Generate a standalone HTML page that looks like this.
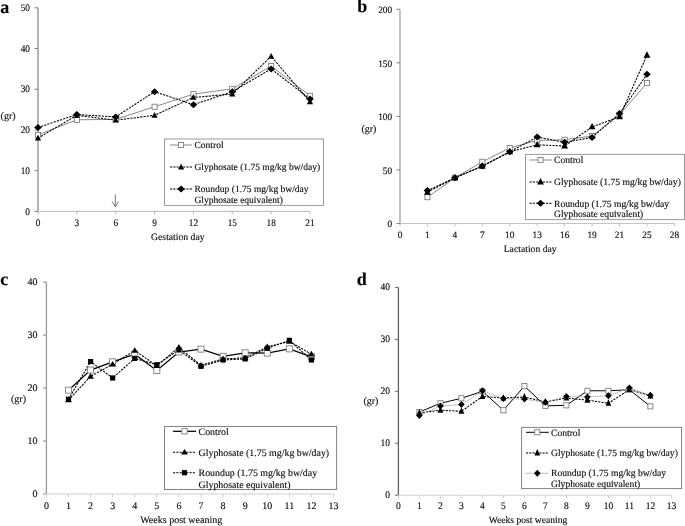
<!DOCTYPE html>
<html><head><meta charset="utf-8"><style>
html,body{margin:0;padding:0;background:#fff;}
body{filter:grayscale(1) blur(0.3px);}
svg{display:block;font-family:"Liberation Serif", serif;text-rendering:geometricPrecision;}
text{stroke:#111;stroke-width:0.15px;}
</style></head><body>
<svg width="685" height="526" viewBox="0 0 685 526">
<rect width="685" height="526" fill="#fff"/>
<line x1="38" y1="7.8" x2="38" y2="211.4" stroke="#8c8c8c" stroke-width="1.3"/>
<line x1="38" y1="211.4" x2="310" y2="211.4" stroke="#b5b5b5" stroke-width="1"/>
<line x1="34.5" y1="211.4" x2="38" y2="211.4" stroke="#808080" stroke-width="1"/>
<text transform="translate(30 214.5) scale(0.93 1)" font-size="10" text-anchor="end" font-weight="normal" fill="#111">0</text>
<line x1="34.5" y1="170.68" x2="38" y2="170.68" stroke="#808080" stroke-width="1"/>
<text transform="translate(30 173.78) scale(0.93 1)" font-size="10" text-anchor="end" font-weight="normal" fill="#111">10</text>
<line x1="34.5" y1="129.96" x2="38" y2="129.96" stroke="#808080" stroke-width="1"/>
<text transform="translate(30 133.06) scale(0.93 1)" font-size="10" text-anchor="end" font-weight="normal" fill="#111">20</text>
<line x1="34.5" y1="89.24" x2="38" y2="89.24" stroke="#808080" stroke-width="1"/>
<text transform="translate(30 92.34) scale(0.93 1)" font-size="10" text-anchor="end" font-weight="normal" fill="#111">30</text>
<line x1="34.5" y1="48.52" x2="38" y2="48.52" stroke="#808080" stroke-width="1"/>
<text transform="translate(30 51.62) scale(0.93 1)" font-size="10" text-anchor="end" font-weight="normal" fill="#111">40</text>
<line x1="34.5" y1="7.8" x2="38" y2="7.8" stroke="#808080" stroke-width="1"/>
<text transform="translate(30 10.9) scale(0.93 1)" font-size="10" text-anchor="end" font-weight="normal" fill="#111">50</text>
<line x1="38" y1="211.4" x2="38" y2="214.4" stroke="#b5b5b5" stroke-width="1"/>
<text transform="translate(38 225.8) scale(0.93 1)" font-size="10" text-anchor="middle" font-weight="normal" fill="#111">0</text>
<line x1="76.86" y1="211.4" x2="76.86" y2="214.4" stroke="#b5b5b5" stroke-width="1"/>
<text transform="translate(76.86 225.8) scale(0.93 1)" font-size="10" text-anchor="middle" font-weight="normal" fill="#111">3</text>
<line x1="115.71" y1="211.4" x2="115.71" y2="214.4" stroke="#b5b5b5" stroke-width="1"/>
<text transform="translate(115.71 225.8) scale(0.93 1)" font-size="10" text-anchor="middle" font-weight="normal" fill="#111">6</text>
<line x1="154.57" y1="211.4" x2="154.57" y2="214.4" stroke="#b5b5b5" stroke-width="1"/>
<text transform="translate(154.57 225.8) scale(0.93 1)" font-size="10" text-anchor="middle" font-weight="normal" fill="#111">9</text>
<line x1="193.43" y1="211.4" x2="193.43" y2="214.4" stroke="#b5b5b5" stroke-width="1"/>
<text transform="translate(193.43 225.8) scale(0.93 1)" font-size="10" text-anchor="middle" font-weight="normal" fill="#111">12</text>
<line x1="232.29" y1="211.4" x2="232.29" y2="214.4" stroke="#b5b5b5" stroke-width="1"/>
<text transform="translate(232.29 225.8) scale(0.93 1)" font-size="10" text-anchor="middle" font-weight="normal" fill="#111">15</text>
<line x1="271.14" y1="211.4" x2="271.14" y2="214.4" stroke="#b5b5b5" stroke-width="1"/>
<text transform="translate(271.14 225.8) scale(0.93 1)" font-size="10" text-anchor="middle" font-weight="normal" fill="#111">18</text>
<line x1="310" y1="211.4" x2="310" y2="214.4" stroke="#b5b5b5" stroke-width="1"/>
<text transform="translate(310 225.8) scale(0.93 1)" font-size="10" text-anchor="middle" font-weight="normal" fill="#111">21</text>
<text x="0.6" y="119.3" font-size="10" text-anchor="start" font-weight="normal" fill="#111">(gr)</text>
<text x="177.85" y="240.3" font-size="9.7" text-anchor="middle" font-weight="normal" fill="#111">Gestation day</text>
<text x="0.3" y="12.8" font-size="18" text-anchor="start" font-weight="bold" fill="#000">a</text>
<path d="M38 134.85L76.86 119.78L115.71 119.37L154.57 106.75L193.43 94.13L232.29 88.83L271.14 66.03L310 95.76" fill="none" stroke="#7a7a7a" stroke-width="0.9" />
<path d="M38 138.1L76.86 115.3L115.71 120.19L154.57 115.3L193.43 97.38L232.29 94.13L271.14 56.26L310 101.86" fill="none" stroke="#000" stroke-width="1.05" stroke-dasharray="2.2 1.1"/>
<path d="M38 127.52L76.86 114.49L115.71 116.93L154.57 91.68L193.43 104.71L232.29 91.68L271.14 68.88L310 99.01" fill="none" stroke="#000" stroke-width="1.05" stroke-dasharray="2.2 1.1"/>
<rect x="35.45" y="132.3" width="5.1" height="5.1" fill="#fff" stroke="#777" stroke-width="0.85"/>
<rect x="74.31" y="117.23" width="5.1" height="5.1" fill="#fff" stroke="#777" stroke-width="0.85"/>
<rect x="113.16" y="116.82" width="5.1" height="5.1" fill="#fff" stroke="#777" stroke-width="0.85"/>
<rect x="152.02" y="104.2" width="5.1" height="5.1" fill="#fff" stroke="#777" stroke-width="0.85"/>
<rect x="190.88" y="91.58" width="5.1" height="5.1" fill="#fff" stroke="#777" stroke-width="0.85"/>
<rect x="229.74" y="86.28" width="5.1" height="5.1" fill="#fff" stroke="#777" stroke-width="0.85"/>
<rect x="268.59" y="63.48" width="5.1" height="5.1" fill="#fff" stroke="#777" stroke-width="0.85"/>
<rect x="307.45" y="93.21" width="5.1" height="5.1" fill="#fff" stroke="#777" stroke-width="0.85"/>
<path d="M38 134.8L41.1 140.5L34.9 140.5Z" fill="#000"/>
<path d="M76.86 112L79.96 117.7L73.76 117.7Z" fill="#000"/>
<path d="M115.71 116.89L118.81 122.59L112.61 122.59Z" fill="#000"/>
<path d="M154.57 112L157.67 117.7L151.47 117.7Z" fill="#000"/>
<path d="M193.43 94.08L196.53 99.78L190.33 99.78Z" fill="#000"/>
<path d="M232.29 90.83L235.39 96.53L229.19 96.53Z" fill="#000"/>
<path d="M271.14 52.96L274.24 58.66L268.04 58.66Z" fill="#000"/>
<path d="M310 98.56L313.1 104.26L306.9 104.26Z" fill="#000"/>
<path d="M38 124.02L41.8 127.52L38 131.02L34.2 127.52Z" fill="#000"/>
<path d="M76.86 110.99L80.66 114.49L76.86 117.99L73.06 114.49Z" fill="#000"/>
<path d="M115.71 113.43L119.51 116.93L115.71 120.43L111.91 116.93Z" fill="#000"/>
<path d="M154.57 88.18L158.37 91.68L154.57 95.18L150.77 91.68Z" fill="#000"/>
<path d="M193.43 101.21L197.23 104.71L193.43 108.21L189.63 104.71Z" fill="#000"/>
<path d="M232.29 88.18L236.09 91.68L232.29 95.18L228.49 91.68Z" fill="#000"/>
<path d="M271.14 65.38L274.94 68.88L271.14 72.38L267.34 68.88Z" fill="#000"/>
<path d="M310 95.51L313.8 99.01L310 102.51L306.2 99.01Z" fill="#000"/>
<rect x="164.5" y="139" width="159" height="66.4" fill="#fff" stroke="#999" stroke-width="1"/>
<line x1="170" y1="145" x2="192" y2="145" stroke="#7a7a7a" stroke-width="0.9" />
<rect x="178.55" y="142.45" width="5.1" height="5.1" fill="#fff" stroke="#777" stroke-width="0.85"/>
<line x1="170" y1="167" x2="192" y2="167" stroke="#000" stroke-width="1.05" stroke-dasharray="2.2 1.1"/>
<path d="M181.1 163.7L184.2 169.4L178 169.4Z" fill="#000"/>
<line x1="170" y1="189" x2="192" y2="189" stroke="#000" stroke-width="1.05" stroke-dasharray="2.2 1.1"/>
<path d="M181.1 185.5L184.9 189L181.1 192.5L177.3 189Z" fill="#000"/>
<text x="194.5" y="148.2" font-size="9.5" text-anchor="start" font-weight="normal" fill="#111">Control</text>
<text x="194.5" y="170.2" font-size="9.5" text-anchor="start" font-weight="normal" fill="#111">Glyphosate (1.75 mg/kg bw/day)</text>
<text x="194.5" y="192.2" font-size="9.5" text-anchor="start" font-weight="normal" fill="#111">Roundup (1.75 mg/kg bw/day</text>
<text x="194.5" y="203.2" font-size="9.5" text-anchor="start" font-weight="normal" fill="#111">Glyphosate equivalent)</text>
<path d="M115.3 194.4V206.6M112 201.6L115.3 206.6L118.6 201.6" fill="none" stroke="#555" stroke-width="0.8"/>
<line x1="400" y1="9.3" x2="400" y2="223.5" stroke="#a2a2a2" stroke-width="1.3"/>
<line x1="400" y1="223.5" x2="674.4" y2="223.5" stroke="#c4c4c4" stroke-width="1"/>
<line x1="396.5" y1="223.5" x2="400" y2="223.5" stroke="#808080" stroke-width="1"/>
<text transform="translate(392.1 227.2) scale(0.95 1)" font-size="9.8" text-anchor="end" font-weight="normal" fill="#111">0</text>
<line x1="396.5" y1="169.95" x2="400" y2="169.95" stroke="#808080" stroke-width="1"/>
<text transform="translate(392.1 173.65) scale(0.95 1)" font-size="9.8" text-anchor="end" font-weight="normal" fill="#111">50</text>
<line x1="396.5" y1="116.4" x2="400" y2="116.4" stroke="#808080" stroke-width="1"/>
<text transform="translate(392.1 120.1) scale(0.95 1)" font-size="9.8" text-anchor="end" font-weight="normal" fill="#111">100</text>
<line x1="396.5" y1="62.85" x2="400" y2="62.85" stroke="#808080" stroke-width="1"/>
<text transform="translate(392.1 66.55) scale(0.95 1)" font-size="9.8" text-anchor="end" font-weight="normal" fill="#111">150</text>
<line x1="396.5" y1="9.3" x2="400" y2="9.3" stroke="#808080" stroke-width="1"/>
<text transform="translate(392.1 13) scale(0.95 1)" font-size="9.8" text-anchor="end" font-weight="normal" fill="#111">200</text>
<line x1="400" y1="223.5" x2="400" y2="226.5" stroke="#c4c4c4" stroke-width="1"/>
<text transform="translate(400 237.6) scale(0.95 1)" font-size="9.8" text-anchor="middle" font-weight="normal" fill="#111">0</text>
<line x1="427.44" y1="223.5" x2="427.44" y2="226.5" stroke="#c4c4c4" stroke-width="1"/>
<text transform="translate(427.44 237.6) scale(0.95 1)" font-size="9.8" text-anchor="middle" font-weight="normal" fill="#111">1</text>
<line x1="454.88" y1="223.5" x2="454.88" y2="226.5" stroke="#c4c4c4" stroke-width="1"/>
<text transform="translate(454.88 237.6) scale(0.95 1)" font-size="9.8" text-anchor="middle" font-weight="normal" fill="#111">4</text>
<line x1="482.32" y1="223.5" x2="482.32" y2="226.5" stroke="#c4c4c4" stroke-width="1"/>
<text transform="translate(482.32 237.6) scale(0.95 1)" font-size="9.8" text-anchor="middle" font-weight="normal" fill="#111">7</text>
<line x1="509.76" y1="223.5" x2="509.76" y2="226.5" stroke="#c4c4c4" stroke-width="1"/>
<text transform="translate(509.76 237.6) scale(0.95 1)" font-size="9.8" text-anchor="middle" font-weight="normal" fill="#111">10</text>
<line x1="537.2" y1="223.5" x2="537.2" y2="226.5" stroke="#c4c4c4" stroke-width="1"/>
<text transform="translate(537.2 237.6) scale(0.95 1)" font-size="9.8" text-anchor="middle" font-weight="normal" fill="#111">13</text>
<line x1="564.64" y1="223.5" x2="564.64" y2="226.5" stroke="#c4c4c4" stroke-width="1"/>
<text transform="translate(564.64 237.6) scale(0.95 1)" font-size="9.8" text-anchor="middle" font-weight="normal" fill="#111">16</text>
<line x1="592.08" y1="223.5" x2="592.08" y2="226.5" stroke="#c4c4c4" stroke-width="1"/>
<text transform="translate(592.08 237.6) scale(0.95 1)" font-size="9.8" text-anchor="middle" font-weight="normal" fill="#111">19</text>
<line x1="619.52" y1="223.5" x2="619.52" y2="226.5" stroke="#c4c4c4" stroke-width="1"/>
<text transform="translate(619.52 237.6) scale(0.95 1)" font-size="9.8" text-anchor="middle" font-weight="normal" fill="#111">21</text>
<line x1="646.96" y1="223.5" x2="646.96" y2="226.5" stroke="#c4c4c4" stroke-width="1"/>
<text transform="translate(646.96 237.6) scale(0.95 1)" font-size="9.8" text-anchor="middle" font-weight="normal" fill="#111">25</text>
<line x1="674.4" y1="223.5" x2="674.4" y2="226.5" stroke="#c4c4c4" stroke-width="1"/>
<text transform="translate(674.4 237.6) scale(0.95 1)" font-size="9.8" text-anchor="middle" font-weight="normal" fill="#111">28</text>
<text x="361.4" y="131.9" font-size="10" text-anchor="start" font-weight="normal" fill="#111">(gr)</text>
<text x="530.2" y="251.6" font-size="9.7" text-anchor="middle" font-weight="normal" fill="#111">Lactation day</text>
<text x="357.3" y="12.4" font-size="18" text-anchor="start" font-weight="bold" fill="#000">b</text>
<path d="M427.44 197.2L454.88 177.81L482.32 161.85L509.76 147.93L537.2 140.43L564.64 139.79L592.08 136.04L619.52 114.94L646.96 83.03" fill="none" stroke="#7a7a7a" stroke-width="0.9" />
<path d="M427.44 192.16L454.88 177.81L482.32 166.24L509.76 151.79L537.2 144.82L564.64 146L592.08 126.83L619.52 116.87L646.96 55.18" fill="none" stroke="#000" stroke-width="1.05" stroke-dasharray="2.2 1.1"/>
<path d="M427.44 190.56L454.88 177.81L482.32 165.92L509.76 151.79L537.2 137.01L564.64 142.36L592.08 137.43L619.52 113.55L646.96 74.35" fill="none" stroke="#000" stroke-width="1.05" stroke-dasharray="2.2 1.1"/>
<rect x="424.89" y="194.65" width="5.1" height="5.1" fill="#fff" stroke="#777" stroke-width="0.85"/>
<rect x="452.33" y="175.26" width="5.1" height="5.1" fill="#fff" stroke="#777" stroke-width="0.85"/>
<rect x="479.77" y="159.3" width="5.1" height="5.1" fill="#fff" stroke="#777" stroke-width="0.85"/>
<rect x="507.21" y="145.38" width="5.1" height="5.1" fill="#fff" stroke="#777" stroke-width="0.85"/>
<rect x="534.65" y="137.88" width="5.1" height="5.1" fill="#fff" stroke="#777" stroke-width="0.85"/>
<rect x="562.09" y="137.24" width="5.1" height="5.1" fill="#fff" stroke="#777" stroke-width="0.85"/>
<rect x="589.53" y="133.49" width="5.1" height="5.1" fill="#fff" stroke="#777" stroke-width="0.85"/>
<rect x="616.97" y="112.39" width="5.1" height="5.1" fill="#fff" stroke="#777" stroke-width="0.85"/>
<rect x="644.41" y="80.48" width="5.1" height="5.1" fill="#fff" stroke="#777" stroke-width="0.85"/>
<path d="M427.44 188.26L430.84 194.66L424.04 194.66Z" fill="#000"/>
<path d="M454.88 173.91L458.28 180.31L451.48 180.31Z" fill="#000"/>
<path d="M482.32 162.34L485.72 168.74L478.92 168.74Z" fill="#000"/>
<path d="M509.76 147.89L513.16 154.29L506.36 154.29Z" fill="#000"/>
<path d="M537.2 140.92L540.6 147.32L533.8 147.32Z" fill="#000"/>
<path d="M564.64 142.1L568.04 148.5L561.24 148.5Z" fill="#000"/>
<path d="M592.08 122.93L595.48 129.33L588.68 129.33Z" fill="#000"/>
<path d="M619.52 112.97L622.92 119.37L616.12 119.37Z" fill="#000"/>
<path d="M646.96 51.28L650.36 57.68L643.56 57.68Z" fill="#000"/>
<path d="M427.44 187.06L431.24 190.56L427.44 194.06L423.64 190.56Z" fill="#000"/>
<path d="M454.88 174.31L458.68 177.81L454.88 181.31L451.08 177.81Z" fill="#000"/>
<path d="M482.32 162.42L486.12 165.92L482.32 169.42L478.52 165.92Z" fill="#000"/>
<path d="M509.76 148.29L513.56 151.79L509.76 155.29L505.96 151.79Z" fill="#000"/>
<path d="M537.2 133.51L541 137.01L537.2 140.51L533.4 137.01Z" fill="#000"/>
<path d="M564.64 138.86L568.44 142.36L564.64 145.86L560.84 142.36Z" fill="#000"/>
<path d="M592.08 133.93L595.88 137.43L592.08 140.93L588.28 137.43Z" fill="#000"/>
<path d="M619.52 110.05L623.32 113.55L619.52 117.05L615.72 113.55Z" fill="#000"/>
<path d="M646.96 70.85L650.76 74.35L646.96 77.85L643.16 74.35Z" fill="#000"/>
<rect x="525.5" y="154.4" width="159" height="65.2" fill="#fff" stroke="#999" stroke-width="1"/>
<line x1="529.5" y1="160" x2="551.6" y2="160" stroke="#7a7a7a" stroke-width="0.9" />
<rect x="538" y="157.45" width="5.1" height="5.1" fill="#fff" stroke="#777" stroke-width="0.85"/>
<line x1="529.5" y1="182" x2="551.6" y2="182" stroke="#000" stroke-width="1.05" stroke-dasharray="2.2 1.1"/>
<path d="M540.55 178.1L543.95 184.5L537.15 184.5Z" fill="#000"/>
<line x1="529.5" y1="203.3" x2="551.6" y2="203.3" stroke="#000" stroke-width="1.05" stroke-dasharray="2.2 1.1"/>
<path d="M540.55 199.8L544.35 203.3L540.55 206.8L536.75 203.3Z" fill="#000"/>
<text x="554" y="163.2" font-size="9.6" text-anchor="start" font-weight="normal" fill="#111">Control</text>
<text x="554" y="185.2" font-size="9.6" text-anchor="start" font-weight="normal" fill="#111">Glyphosate (1.75 mg/kg bw/day)</text>
<text x="554" y="206.5" font-size="9.6" text-anchor="start" font-weight="normal" fill="#111">Roundup (1.75 mg/kg bw/day</text>
<text x="554" y="217.1" font-size="9.6" text-anchor="start" font-weight="normal" fill="#111">Glyphosate equivalent)</text>
<line x1="46.4" y1="282.1" x2="46.4" y2="494" stroke="#979797" stroke-width="1.3"/>
<line x1="46.4" y1="494" x2="333.5" y2="494" stroke="#cfcfcf" stroke-width="1"/>
<line x1="42.9" y1="494" x2="46.4" y2="494" stroke="#8a8a8a" stroke-width="1"/>
<text x="37.6" y="497" font-size="10" text-anchor="end" font-weight="normal" fill="#111">0</text>
<line x1="42.9" y1="441.02" x2="46.4" y2="441.02" stroke="#8a8a8a" stroke-width="1"/>
<text x="37.6" y="444.02" font-size="10" text-anchor="end" font-weight="normal" fill="#111">10</text>
<line x1="42.9" y1="388.05" x2="46.4" y2="388.05" stroke="#8a8a8a" stroke-width="1"/>
<text x="37.6" y="391.05" font-size="10" text-anchor="end" font-weight="normal" fill="#111">20</text>
<line x1="42.9" y1="335.08" x2="46.4" y2="335.08" stroke="#8a8a8a" stroke-width="1"/>
<text x="37.6" y="338.08" font-size="10" text-anchor="end" font-weight="normal" fill="#111">30</text>
<line x1="42.9" y1="282.1" x2="46.4" y2="282.1" stroke="#8a8a8a" stroke-width="1"/>
<text x="37.6" y="285.1" font-size="10" text-anchor="end" font-weight="normal" fill="#111">40</text>
<line x1="46.4" y1="494" x2="46.4" y2="497" stroke="#cfcfcf" stroke-width="1"/>
<text x="46.4" y="508.9" font-size="10" text-anchor="middle" font-weight="normal" fill="#111">0</text>
<line x1="68.48" y1="494" x2="68.48" y2="497" stroke="#cfcfcf" stroke-width="1"/>
<text x="68.48" y="508.9" font-size="10" text-anchor="middle" font-weight="normal" fill="#111">1</text>
<line x1="90.57" y1="494" x2="90.57" y2="497" stroke="#cfcfcf" stroke-width="1"/>
<text x="90.57" y="508.9" font-size="10" text-anchor="middle" font-weight="normal" fill="#111">2</text>
<line x1="112.65" y1="494" x2="112.65" y2="497" stroke="#cfcfcf" stroke-width="1"/>
<text x="112.65" y="508.9" font-size="10" text-anchor="middle" font-weight="normal" fill="#111">3</text>
<line x1="134.74" y1="494" x2="134.74" y2="497" stroke="#cfcfcf" stroke-width="1"/>
<text x="134.74" y="508.9" font-size="10" text-anchor="middle" font-weight="normal" fill="#111">4</text>
<line x1="156.82" y1="494" x2="156.82" y2="497" stroke="#cfcfcf" stroke-width="1"/>
<text x="156.82" y="508.9" font-size="10" text-anchor="middle" font-weight="normal" fill="#111">5</text>
<line x1="178.91" y1="494" x2="178.91" y2="497" stroke="#cfcfcf" stroke-width="1"/>
<text x="178.91" y="508.9" font-size="10" text-anchor="middle" font-weight="normal" fill="#111">6</text>
<line x1="200.99" y1="494" x2="200.99" y2="497" stroke="#cfcfcf" stroke-width="1"/>
<text x="200.99" y="508.9" font-size="10" text-anchor="middle" font-weight="normal" fill="#111">7</text>
<line x1="223.08" y1="494" x2="223.08" y2="497" stroke="#cfcfcf" stroke-width="1"/>
<text x="223.08" y="508.9" font-size="10" text-anchor="middle" font-weight="normal" fill="#111">8</text>
<line x1="245.16" y1="494" x2="245.16" y2="497" stroke="#cfcfcf" stroke-width="1"/>
<text x="245.16" y="508.9" font-size="10" text-anchor="middle" font-weight="normal" fill="#111">9</text>
<line x1="267.25" y1="494" x2="267.25" y2="497" stroke="#cfcfcf" stroke-width="1"/>
<text x="267.25" y="508.9" font-size="10" text-anchor="middle" font-weight="normal" fill="#111">10</text>
<line x1="289.33" y1="494" x2="289.33" y2="497" stroke="#cfcfcf" stroke-width="1"/>
<text x="289.33" y="508.9" font-size="10" text-anchor="middle" font-weight="normal" fill="#111">11</text>
<line x1="311.42" y1="494" x2="311.42" y2="497" stroke="#cfcfcf" stroke-width="1"/>
<text x="311.42" y="508.9" font-size="10" text-anchor="middle" font-weight="normal" fill="#111">12</text>
<line x1="333.5" y1="494" x2="333.5" y2="497" stroke="#cfcfcf" stroke-width="1"/>
<text x="333.5" y="508.9" font-size="10" text-anchor="middle" font-weight="normal" fill="#111">13</text>
<text x="11" y="402.3" font-size="10" text-anchor="start" font-weight="normal" fill="#111">(gr)</text>
<text x="181.2" y="523.3" font-size="10" text-anchor="middle" font-weight="normal" fill="#111">Weeks post weaning</text>
<text x="0.3" y="285.2" font-size="18" text-anchor="start" font-weight="bold" fill="#000">c</text>
<path d="M68.48 390.17L90.57 370.04L112.65 361.83L134.74 354.15L156.82 370.57L178.91 352.03L200.99 349.11L223.08 356.26L245.16 352.82L267.25 353.09L289.33 348.85L311.42 356.79" fill="none" stroke="#000" stroke-width="1.25" />
<path d="M68.48 399.97L90.57 376.4L112.65 364.21L134.74 350.44L156.82 365.8L178.91 347.26L200.99 365.27L223.08 358.91L245.16 357.85L267.25 346.73L289.33 341.43L311.42 354.15" fill="none" stroke="#000" stroke-width="1.05" stroke-dasharray="2.2 1.1"/>
<path d="M68.48 399.17L90.57 361.56L112.65 377.98L134.74 358.38L156.82 364.74L178.91 349.91L200.99 366.33L223.08 359.97L245.16 358.91L267.25 348.32L289.33 340.37L311.42 359.97" fill="none" stroke="#000" stroke-width="1.1" stroke-dasharray="2.2 1.1"/>
<rect x="65.48" y="387.16" width="6.02" height="6.02" fill="#fff" stroke="#777" stroke-width="0.85"/>
<rect x="87.56" y="367.03" width="6.02" height="6.02" fill="#fff" stroke="#777" stroke-width="0.85"/>
<rect x="109.64" y="358.82" width="6.02" height="6.02" fill="#fff" stroke="#777" stroke-width="0.85"/>
<rect x="131.73" y="351.14" width="6.02" height="6.02" fill="#fff" stroke="#777" stroke-width="0.85"/>
<rect x="153.81" y="367.56" width="6.02" height="6.02" fill="#fff" stroke="#777" stroke-width="0.85"/>
<rect x="175.9" y="349.02" width="6.02" height="6.02" fill="#fff" stroke="#777" stroke-width="0.85"/>
<rect x="197.98" y="346.1" width="6.02" height="6.02" fill="#fff" stroke="#777" stroke-width="0.85"/>
<rect x="220.07" y="353.26" width="6.02" height="6.02" fill="#fff" stroke="#777" stroke-width="0.85"/>
<rect x="242.15" y="349.81" width="6.02" height="6.02" fill="#fff" stroke="#777" stroke-width="0.85"/>
<rect x="264.24" y="350.08" width="6.02" height="6.02" fill="#fff" stroke="#777" stroke-width="0.85"/>
<rect x="286.32" y="345.84" width="6.02" height="6.02" fill="#fff" stroke="#777" stroke-width="0.85"/>
<rect x="308.41" y="353.79" width="6.02" height="6.02" fill="#fff" stroke="#777" stroke-width="0.85"/>
<path d="M68.48 396.67L71.88 402.27L65.08 402.27Z" fill="#000"/>
<path d="M90.57 373.1L93.97 378.7L87.17 378.7Z" fill="#000"/>
<path d="M112.65 360.91L116.05 366.51L109.25 366.51Z" fill="#000"/>
<path d="M134.74 347.14L138.14 352.74L131.34 352.74Z" fill="#000"/>
<path d="M156.82 362.5L160.22 368.1L153.42 368.1Z" fill="#000"/>
<path d="M178.91 343.96L182.31 349.56L175.51 349.56Z" fill="#000"/>
<path d="M200.99 361.97L204.39 367.57L197.59 367.57Z" fill="#000"/>
<path d="M223.08 355.61L226.48 361.21L219.68 361.21Z" fill="#000"/>
<path d="M245.16 354.55L248.56 360.15L241.76 360.15Z" fill="#000"/>
<path d="M267.25 343.43L270.65 349.03L263.85 349.03Z" fill="#000"/>
<path d="M289.33 338.13L292.73 343.73L285.93 343.73Z" fill="#000"/>
<path d="M311.42 350.85L314.82 356.45L308.02 356.45Z" fill="#000"/>
<rect x="65.88" y="396.57" width="5.2" height="5.2" fill="#000"/>
<rect x="87.97" y="358.96" width="5.2" height="5.2" fill="#000"/>
<rect x="110.05" y="375.38" width="5.2" height="5.2" fill="#000"/>
<rect x="132.14" y="355.78" width="5.2" height="5.2" fill="#000"/>
<rect x="154.22" y="362.14" width="5.2" height="5.2" fill="#000"/>
<rect x="176.31" y="347.31" width="5.2" height="5.2" fill="#000"/>
<rect x="198.39" y="363.73" width="5.2" height="5.2" fill="#000"/>
<rect x="220.48" y="357.37" width="5.2" height="5.2" fill="#000"/>
<rect x="242.56" y="356.31" width="5.2" height="5.2" fill="#000"/>
<rect x="264.65" y="345.72" width="5.2" height="5.2" fill="#000"/>
<rect x="286.73" y="337.77" width="5.2" height="5.2" fill="#000"/>
<rect x="308.82" y="357.37" width="5.2" height="5.2" fill="#000"/>
<rect x="164.5" y="426.5" width="172.1" height="63" fill="#fff" stroke="#828282" stroke-width="1"/>
<line x1="173" y1="431.3" x2="196" y2="431.3" stroke="#000" stroke-width="1.25" />
<rect x="181.82" y="428.62" width="5.35" height="5.35" fill="#fff" stroke="#777" stroke-width="0.85"/>
<line x1="173" y1="452.2" x2="196" y2="452.2" stroke="#000" stroke-width="1.05" stroke-dasharray="2.2 1.1"/>
<path d="M184.5 448.9L187.9 454.5L181.1 454.5Z" fill="#000"/>
<line x1="173" y1="472.7" x2="196" y2="472.7" stroke="#000" stroke-width="1.1" stroke-dasharray="2.2 1.1"/>
<rect x="181.9" y="470.1" width="5.2" height="5.2" fill="#000"/>
<text x="198.6" y="434.6" font-size="9.9" text-anchor="start" font-weight="normal" fill="#111">Control</text>
<text x="198.6" y="455.5" font-size="9.9" text-anchor="start" font-weight="normal" fill="#111">Glyphosate (1.75 mg/kg bw/day)</text>
<text x="198.6" y="476" font-size="9.9" text-anchor="start" font-weight="normal" fill="#111">Roundup (1.75 mg/kg bw/day</text>
<text x="198.6" y="488.1" font-size="9.9" text-anchor="start" font-weight="normal" fill="#111">Glyphosate equivalent)</text>
<line x1="398.4" y1="287.4" x2="398.4" y2="495.2" stroke="#606060" stroke-width="1.3"/>
<line x1="398.4" y1="495.2" x2="671.4" y2="495.2" stroke="#d2d2d2" stroke-width="1"/>
<line x1="394.9" y1="495.2" x2="398.4" y2="495.2" stroke="#6a6a6a" stroke-width="1"/>
<text transform="translate(390.1 497.65) scale(0.95 1)" font-size="10" text-anchor="end" font-weight="normal" fill="#111">0</text>
<line x1="394.9" y1="443.25" x2="398.4" y2="443.25" stroke="#6a6a6a" stroke-width="1"/>
<text transform="translate(390.1 445.7) scale(0.95 1)" font-size="10" text-anchor="end" font-weight="normal" fill="#111">10</text>
<line x1="394.9" y1="391.3" x2="398.4" y2="391.3" stroke="#6a6a6a" stroke-width="1"/>
<text transform="translate(390.1 393.75) scale(0.95 1)" font-size="10" text-anchor="end" font-weight="normal" fill="#111">20</text>
<line x1="394.9" y1="339.35" x2="398.4" y2="339.35" stroke="#6a6a6a" stroke-width="1"/>
<text transform="translate(390.1 341.8) scale(0.95 1)" font-size="10" text-anchor="end" font-weight="normal" fill="#111">30</text>
<line x1="394.9" y1="287.4" x2="398.4" y2="287.4" stroke="#6a6a6a" stroke-width="1"/>
<text transform="translate(390.1 289.85) scale(0.95 1)" font-size="10" text-anchor="end" font-weight="normal" fill="#111">40</text>
<line x1="398.4" y1="495.2" x2="398.4" y2="498.2" stroke="#d2d2d2" stroke-width="1"/>
<text transform="translate(398.4 509.3) scale(0.95 1)" font-size="10" text-anchor="middle" font-weight="normal" fill="#111">0</text>
<line x1="419.4" y1="495.2" x2="419.4" y2="498.2" stroke="#d2d2d2" stroke-width="1"/>
<text transform="translate(419.4 509.3) scale(0.95 1)" font-size="10" text-anchor="middle" font-weight="normal" fill="#111">1</text>
<line x1="440.4" y1="495.2" x2="440.4" y2="498.2" stroke="#d2d2d2" stroke-width="1"/>
<text transform="translate(440.4 509.3) scale(0.95 1)" font-size="10" text-anchor="middle" font-weight="normal" fill="#111">2</text>
<line x1="461.4" y1="495.2" x2="461.4" y2="498.2" stroke="#d2d2d2" stroke-width="1"/>
<text transform="translate(461.4 509.3) scale(0.95 1)" font-size="10" text-anchor="middle" font-weight="normal" fill="#111">3</text>
<line x1="482.4" y1="495.2" x2="482.4" y2="498.2" stroke="#d2d2d2" stroke-width="1"/>
<text transform="translate(482.4 509.3) scale(0.95 1)" font-size="10" text-anchor="middle" font-weight="normal" fill="#111">4</text>
<line x1="503.4" y1="495.2" x2="503.4" y2="498.2" stroke="#d2d2d2" stroke-width="1"/>
<text transform="translate(503.4 509.3) scale(0.95 1)" font-size="10" text-anchor="middle" font-weight="normal" fill="#111">5</text>
<line x1="524.4" y1="495.2" x2="524.4" y2="498.2" stroke="#d2d2d2" stroke-width="1"/>
<text transform="translate(524.4 509.3) scale(0.95 1)" font-size="10" text-anchor="middle" font-weight="normal" fill="#111">6</text>
<line x1="545.4" y1="495.2" x2="545.4" y2="498.2" stroke="#d2d2d2" stroke-width="1"/>
<text transform="translate(545.4 509.3) scale(0.95 1)" font-size="10" text-anchor="middle" font-weight="normal" fill="#111">7</text>
<line x1="566.4" y1="495.2" x2="566.4" y2="498.2" stroke="#d2d2d2" stroke-width="1"/>
<text transform="translate(566.4 509.3) scale(0.95 1)" font-size="10" text-anchor="middle" font-weight="normal" fill="#111">8</text>
<line x1="587.4" y1="495.2" x2="587.4" y2="498.2" stroke="#d2d2d2" stroke-width="1"/>
<text transform="translate(587.4 509.3) scale(0.95 1)" font-size="10" text-anchor="middle" font-weight="normal" fill="#111">9</text>
<line x1="608.4" y1="495.2" x2="608.4" y2="498.2" stroke="#d2d2d2" stroke-width="1"/>
<text transform="translate(608.4 509.3) scale(0.95 1)" font-size="10" text-anchor="middle" font-weight="normal" fill="#111">10</text>
<line x1="629.4" y1="495.2" x2="629.4" y2="498.2" stroke="#d2d2d2" stroke-width="1"/>
<text transform="translate(629.4 509.3) scale(0.95 1)" font-size="10" text-anchor="middle" font-weight="normal" fill="#111">11</text>
<line x1="650.4" y1="495.2" x2="650.4" y2="498.2" stroke="#d2d2d2" stroke-width="1"/>
<text transform="translate(650.4 509.3) scale(0.95 1)" font-size="10" text-anchor="middle" font-weight="normal" fill="#111">12</text>
<line x1="671.4" y1="495.2" x2="671.4" y2="498.2" stroke="#d2d2d2" stroke-width="1"/>
<text transform="translate(671.4 509.3) scale(0.95 1)" font-size="10" text-anchor="middle" font-weight="normal" fill="#111">13</text>
<text x="363.4" y="403.7" font-size="10" text-anchor="start" font-weight="normal" fill="#111">(gr)</text>
<text x="528" y="522.9" font-size="9.6" text-anchor="middle" font-weight="normal" fill="#111">Weeks post weaning</text>
<text x="356.8" y="285" font-size="18" text-anchor="start" font-weight="bold" fill="#000">d</text>
<path d="M419.4 412.08L440.4 403.25L461.4 398.31L482.4 391.3L503.4 410.26L524.4 386.11L545.4 405.85L566.4 405.33L587.4 390.78L608.4 390.78L629.4 389.74L650.4 406.37" fill="none" stroke="#000" stroke-width="1" />
<path d="M419.4 412.86L440.4 410.26L461.4 411.3L482.4 396.5L503.4 398.05L524.4 397.01L545.4 401.9L566.4 398.05L587.4 400.13L608.4 403.25L629.4 389.48L650.4 395.98" fill="none" stroke="#000" stroke-width="1.05" stroke-dasharray="2.2 1.1"/>
<path d="M419.4 415.46L440.4 406.11L461.4 404.55L482.4 390.78L503.4 398.57L524.4 399.09L545.4 402.21L566.4 396.5L587.4 397.01L608.4 395.72L629.4 387.92L650.4 395.2" fill="none" stroke="#a0a0a0" stroke-width="1" stroke-dasharray="1.5 0.8"/>
<rect x="416.85" y="409.53" width="5.1" height="5.1" fill="#fff" stroke="#777" stroke-width="0.85"/>
<rect x="437.85" y="400.7" width="5.1" height="5.1" fill="#fff" stroke="#777" stroke-width="0.85"/>
<rect x="458.85" y="395.76" width="5.1" height="5.1" fill="#fff" stroke="#777" stroke-width="0.85"/>
<rect x="479.85" y="388.75" width="5.1" height="5.1" fill="#fff" stroke="#777" stroke-width="0.85"/>
<rect x="500.85" y="407.71" width="5.1" height="5.1" fill="#fff" stroke="#777" stroke-width="0.85"/>
<rect x="521.85" y="383.56" width="5.1" height="5.1" fill="#fff" stroke="#777" stroke-width="0.85"/>
<rect x="542.85" y="403.3" width="5.1" height="5.1" fill="#fff" stroke="#777" stroke-width="0.85"/>
<rect x="563.85" y="402.78" width="5.1" height="5.1" fill="#fff" stroke="#777" stroke-width="0.85"/>
<rect x="584.85" y="388.23" width="5.1" height="5.1" fill="#fff" stroke="#777" stroke-width="0.85"/>
<rect x="605.85" y="388.23" width="5.1" height="5.1" fill="#fff" stroke="#777" stroke-width="0.85"/>
<rect x="626.85" y="387.19" width="5.1" height="5.1" fill="#fff" stroke="#777" stroke-width="0.85"/>
<rect x="647.85" y="403.82" width="5.1" height="5.1" fill="#fff" stroke="#777" stroke-width="0.85"/>
<path d="M419.4 411.96L422.7 415.46L419.4 418.96L416.1 415.46Z" fill="#000"/>
<path d="M440.4 402.61L443.7 406.11L440.4 409.61L437.1 406.11Z" fill="#000"/>
<path d="M461.4 401.05L464.7 404.55L461.4 408.05L458.1 404.55Z" fill="#000"/>
<path d="M482.4 387.28L485.7 390.78L482.4 394.28L479.1 390.78Z" fill="#000"/>
<path d="M503.4 395.07L506.7 398.57L503.4 402.07L500.1 398.57Z" fill="#000"/>
<path d="M524.4 395.59L527.7 399.09L524.4 402.59L521.1 399.09Z" fill="#000"/>
<path d="M545.4 398.71L548.7 402.21L545.4 405.71L542.1 402.21Z" fill="#000"/>
<path d="M566.4 393L569.7 396.5L566.4 400L563.1 396.5Z" fill="#000"/>
<path d="M587.4 393.51L590.7 397.01L587.4 400.51L584.1 397.01Z" fill="#000"/>
<path d="M608.4 392.22L611.7 395.72L608.4 399.22L605.1 395.72Z" fill="#000"/>
<path d="M629.4 384.42L632.7 387.92L629.4 391.42L626.1 387.92Z" fill="#000"/>
<path d="M650.4 391.7L653.7 395.2L650.4 398.7L647.1 395.2Z" fill="#000"/>
<path d="M419.4 408.96L422.3 415.36L416.5 415.36Z" fill="#000"/>
<path d="M440.4 406.36L443.3 412.76L437.5 412.76Z" fill="#000"/>
<path d="M461.4 407.4L464.3 413.8L458.5 413.8Z" fill="#000"/>
<path d="M482.4 392.6L485.3 399L479.5 399Z" fill="#000"/>
<path d="M503.4 394.15L506.3 400.55L500.5 400.55Z" fill="#000"/>
<path d="M524.4 393.11L527.3 399.51L521.5 399.51Z" fill="#000"/>
<path d="M545.4 398L548.3 404.4L542.5 404.4Z" fill="#000"/>
<path d="M566.4 394.15L569.3 400.55L563.5 400.55Z" fill="#000"/>
<path d="M587.4 396.23L590.3 402.63L584.5 402.63Z" fill="#000"/>
<path d="M608.4 399.35L611.3 405.75L605.5 405.75Z" fill="#000"/>
<path d="M629.4 385.58L632.3 391.98L626.5 391.98Z" fill="#000"/>
<path d="M650.4 392.08L653.3 398.48L647.5 398.48Z" fill="#000"/>
<rect x="521.6" y="427.4" width="160" height="61.2" fill="#fff" stroke="#828282" stroke-width="1"/>
<line x1="526" y1="432.3" x2="548.8" y2="432.3" stroke="#000" stroke-width="1" />
<rect x="534.75" y="429.75" width="5.1" height="5.1" fill="#fff" stroke="#777" stroke-width="0.85"/>
<line x1="526" y1="452.9" x2="548.8" y2="452.9" stroke="#000" stroke-width="1.05" stroke-dasharray="2.2 1.1"/>
<path d="M537.3 449L540.2 455.4L534.4 455.4Z" fill="#000"/>
<line x1="526" y1="473.2" x2="548.8" y2="473.2" stroke="#a0a0a0" stroke-width="1" stroke-dasharray="1.5 0.8"/>
<path d="M537.3 469.7L540.6 473.2L537.3 476.7L534 473.2Z" fill="#000"/>
<text x="551" y="435.5" font-size="9.6" text-anchor="start" font-weight="normal" fill="#111">Control</text>
<text x="551" y="456.1" font-size="9.6" text-anchor="start" font-weight="normal" fill="#111">Glyphosate (1.75 mg/kg bw/day)</text>
<text x="551" y="476.4" font-size="9.6" text-anchor="start" font-weight="normal" fill="#111">Roundup (1.75 mg/kg bw/day</text>
<text x="551" y="487.2" font-size="9.6" text-anchor="start" font-weight="normal" fill="#111">Glyphosate equivalent)</text>
</svg>
</body></html>
